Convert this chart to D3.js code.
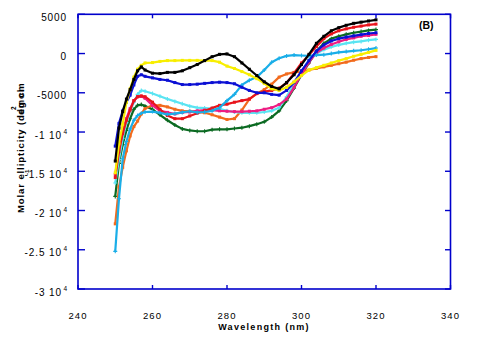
<!DOCTYPE html>
<html><head><meta charset="utf-8">
<script src="https://cdn.jsdelivr.net/npm/d3@7"></script>
<style>
html,body{margin:0;padding:0;background:#fff;}
svg{display:block;font-family:"Liberation Sans",Arial,sans-serif;}
</style></head>
<body><svg id="c" width="482" height="355"></svg>
<script>
const wavelengths = [250,251,252,253,254,255,256,257,258,260,262,264,266,268,270,272,274,276,278,280,282,284,286,288,290,292,294,296,298,300,302,304,306,308,310,312,314,316,318,320];

const blackS   = [-13700,-9500,-7400,-5800,-4600,-3300,-2200,-1700,-2100,-2500,-2550,-2400,-2400,-2200,-1800,-1400,-900,-400,-100,-50,-400,-1200,-2000,-2800,-3600,-4200,-4500,-3700,-2700,-1400,-100,1300,2200,2900,3300,3600,3850,4000,4150,4300];
const redS     = [-15800,-12500,-10200,-8500,-7200,-6000,-5500,-5400,-5500,-6200,-7100,-7900,-8300,-8300,-7950,-7600,-7300,-6950,-6600,-6450,-6200,-6000,-5800,-5100,-4850,-4700,-4400,-3750,-2500,-1200,-200,900,1900,2500,2900,3150,3350,3500,3650,3750];
const magentaS = [-15400,-12200,-10000,-8300,-7000,-6000,-5500,-5450,-5700,-6600,-7300,-7500,-7700,-7500,-7450,-7300,-7200,-7200,-7300,-7350,-7400,-7400,-7350,-7300,-7100,-6900,-6500,-5800,-4300,-2600,-1100,100,700,1150,1500,1800,2000,2200,2300,2450];
const blueS    = [-11800,-8900,-7300,-6200,-5300,-4000,-2900,-2700,-2900,-3100,-3300,-3400,-3700,-3950,-3950,-3900,-3800,-3700,-3650,-3700,-3850,-4300,-4700,-5000,-5000,-5200,-5300,-4700,-3700,-2200,-900,300,1100,1600,1900,2100,2250,2400,2550,2650];
const greenS   = [-18200,-14000,-11600,-9800,-8300,-7100,-6600,-6500,-6700,-7100,-7800,-8500,-9100,-9600,-9800,-9900,-9900,-9700,-9650,-9650,-9550,-9450,-9250,-9000,-8700,-8100,-7300,-6000,-4400,-2700,-1200,300,1300,1900,2200,2450,2650,2800,2950,3050];
const cyanS    = [-16500,-13500,-10800,-8800,-7300,-6200,-5200,-4700,-4800,-5100,-5450,-5800,-6100,-6400,-6700,-6900,-6950,-7000,-7050,-7300,-7450,-7550,-7550,-7550,-7450,-7300,-6900,-5500,-3900,-2300,-800,0,500,850,1100,1300,1450,1550,1700,1800];
const skyS     = [-25200,-18500,-13400,-11200,-9600,-8500,-7900,-7600,-7450,-7400,-7550,-7750,-7650,-7500,-7350,-7500,-7450,-7300,-6900,-6000,-5200,-4000,-3400,-3000,-2100,-1100,-600,-300,-200,-250,-300,-200,-150,0,150,250,350,420,550,700];
const yellowS  = [-15200,-11500,-9000,-6200,-4500,-3000,-2000,-1500,-1200,-1150,-1000,-900,-900,-870,-870,-870,-900,-900,-1100,-1600,-1900,-2300,-2700,-3200,-3800,-4500,-4700,-4300,-3600,-2800,-2100,-1800,-1500,-1200,-900,-650,-350,-100,150,400];
const orangeS  = [-21700,-17000,-14500,-12400,-10500,-9300,-8600,-7700,-7000,-6600,-6600,-6800,-7100,-7300,-7350,-7400,-7550,-7800,-8100,-8400,-8300,-7200,-5800,-5100,-4600,-3900,-3000,-2600,-2400,-2270,-2100,-1900,-1700,-1500,-1300,-1100,-850,-650,-500,-400];

const xTicks = [240,260,280,300,320,340];
const yTicks = [5000,0,-5000,-10000,-15000,-20000,-25000,-30000];
const yTickText = ["5000","0","-5000","-1 10","-1.5 10","-2 10","-2.5 10","-3 10"];
const yTickSup  = ["","","","4","4","4","4","4"];

const series = [
  {v: greenS,   c: "#0b6a22", m: "plus"},
  {v: orangeS,  c: "#f26b1d", m: "sq"},
  {v: cyanS,    c: "#5ae4f2", m: "plus"},
  {v: magentaS, c: "#ee1c82", m: "sq"},
  {v: redS,     c: "#e8141c", m: "sq"},
  {v: skyS,     c: "#1aaee8", m: "plus"},
  {v: blueS,    c: "#0c10d4", m: "sq"},
  {v: yellowS,  c: "#f8ee00", m: "sq"},
  {v: blackS,   c: "#000000", m: "sq"}
];

const svg = d3.select("#c");
const x = d3.scaleLinear().domain([240,340]).range([78,450.5]);
const y = d3.scaleLinear().domain([-30000,5000]).range([289,14.3]);
const frame = "#0000cc";

// data
const line = d3.line().x((d,i)=>x(wavelengths[i])).y(d=>y(d));
series.forEach(s=>{
  svg.append("path").attr("d", line(s.v)).attr("fill","none")
    .attr("stroke", s.c).attr("stroke-width", 2.2).attr("stroke-linejoin","round");
  const g = svg.append("g");
  s.v.forEach((d,i)=>{
    const px = x(wavelengths[i]), py = y(d);
    if (s.m === "sq") {
      g.append("rect").attr("x", px-1.5).attr("y", py-1.5).attr("width",3).attr("height",3).attr("fill", s.c);
    } else {
      g.append("path").attr("d", `M${px-2},${py}H${px+2}M${px},${py-2}V${py+2}`)
        .attr("stroke", s.c).attr("stroke-width", 1.1);
    }
  });
});

// frame
svg.append("rect").attr("x", 78).attr("y", 14.3).attr("width", 450.5-78).attr("height", 289-14.3)
  .attr("fill","none").attr("stroke", frame).attr("stroke-width", 1.6);

// ticks
yTicks.forEach(t=>{
  svg.append("line").attr("x1",78).attr("x2",85).attr("y1",y(t)).attr("y2",y(t)).attr("stroke",frame).attr("stroke-width",1.4);
  svg.append("line").attr("x1",450.5).attr("x2",445).attr("y1",y(t)).attr("y2",y(t)).attr("stroke",frame).attr("stroke-width",1.4);
});
xTicks.forEach(t=>{
  svg.append("line").attr("x1",x(t)).attr("x2",x(t)).attr("y1",289).attr("y2",285).attr("stroke",frame).attr("stroke-width",1.4);
  svg.append("line").attr("x1",x(t)).attr("x2",x(t)).attr("y1",14.3).attr("y2",18.3).attr("stroke",frame).attr("stroke-width",1.4);
});

// tick labels
yTicks.forEach((t,i)=>{
  svg.append("text").attr("x", yTickSup[i] ? 62 : 67).attr("y", y(t)+6.5)
    .attr("text-anchor","end").attr("font-size",10).attr("letter-spacing",0.9).attr("fill","#000")
    .text(yTickText[i]);
  if (yTickSup[i]) {
    svg.append("text").attr("x", 63.5).attr("y", y(t)+1.5).attr("font-size",6.5).attr("fill","#000").text(yTickSup[i]);
  }
});
xTicks.forEach(t=>{
  svg.append("text").attr("x", x(t)).attr("y", 318.5).attr("text-anchor","middle")
    .attr("font-size",9.5).attr("letter-spacing",1.1).attr("fill","#000").text(String(t));
});

// axis titles
svg.append("text").attr("x", 264).attr("y", 330).attr("text-anchor","middle")
  .attr("font-size",9).attr("font-weight","bold").attr("letter-spacing",1.3).attr("fill","#000")
  .text("Wavelength (nm)");
const yl = svg.append("g").attr("transform","translate(24,213) rotate(-90)");
yl.append("text").attr("x",0).attr("y",0).attr("font-size",9.5).attr("font-weight","bold")
  .attr("letter-spacing",0.9).attr("fill","#000").text("Molar ellipticity (deg cm");
yl.append("text").attr("x",98).attr("y",0).attr("font-size",9.5).attr("font-weight","bold")
  .attr("letter-spacing",0.9).attr("fill","#000").attr("opacity",0.85).text("dmol");
yl.append("text").attr("x",103).attr("y",-8).attr("font-size",6.5).attr("font-weight","bold").attr("fill","#000").text("2");
yl.append("text").attr("x",38).attr("y",5).attr("font-size",6).attr("font-weight","bold").attr("fill","#000").text("-1");

svg.append("text").attr("x", 419).attr("y", 29).attr("font-size",10.5).attr("font-weight","bold")
  .attr("fill","#000").text("(B)");
</script></body></html>
